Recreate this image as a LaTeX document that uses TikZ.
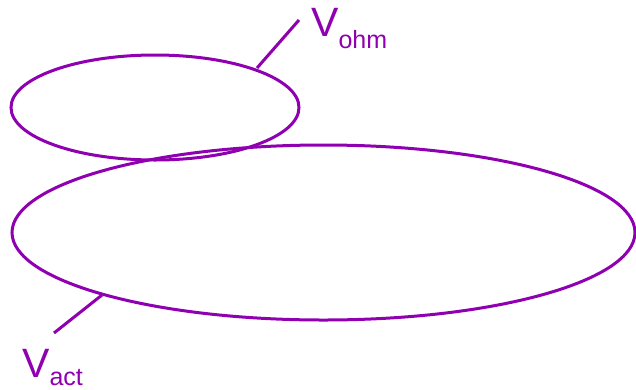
\documentclass[tikz,border=0pt]{standalone}
\usepackage{fontspec}
\setmainfont{Liberation Sans}
\definecolor{vio}{RGB}{143,0,176}
\begin{document}
\begin{tikzpicture}[x=1pt,y=-1pt,
  curve/.style={draw=vio,line width=3pt},
  lbl/.style={text=vio,inner sep=0pt,anchor=base west}]
\useasboundingbox (0,0) rectangle (636,389);
\draw[curve] (155,107.5) ellipse [x radius=144, y radius=52.5];
\draw[curve] (323.5,232.5) ellipse [x radius=311.5, y radius=87.5];
\coordinate (o1) at (257,68);
\coordinate (o2) at (299,20);
\coordinate (a1) at (102,295);
\coordinate (a2) at (54,333);
\draw[curve] (o1) -- (o2);
\draw[curve] (a1) -- (a2);
\node[lbl] (vohm) at (311,36) {\fontsize{41}{41}\selectfont V\raisebox{-12pt}{\fontsize{25}{25}\selectfont ohm}};
\node[lbl] (vact) at (22,377) {\fontsize{41}{41}\selectfont V\raisebox{-8pt}{\fontsize{25}{25}\selectfont act}};
\end{tikzpicture}
\end{document}
